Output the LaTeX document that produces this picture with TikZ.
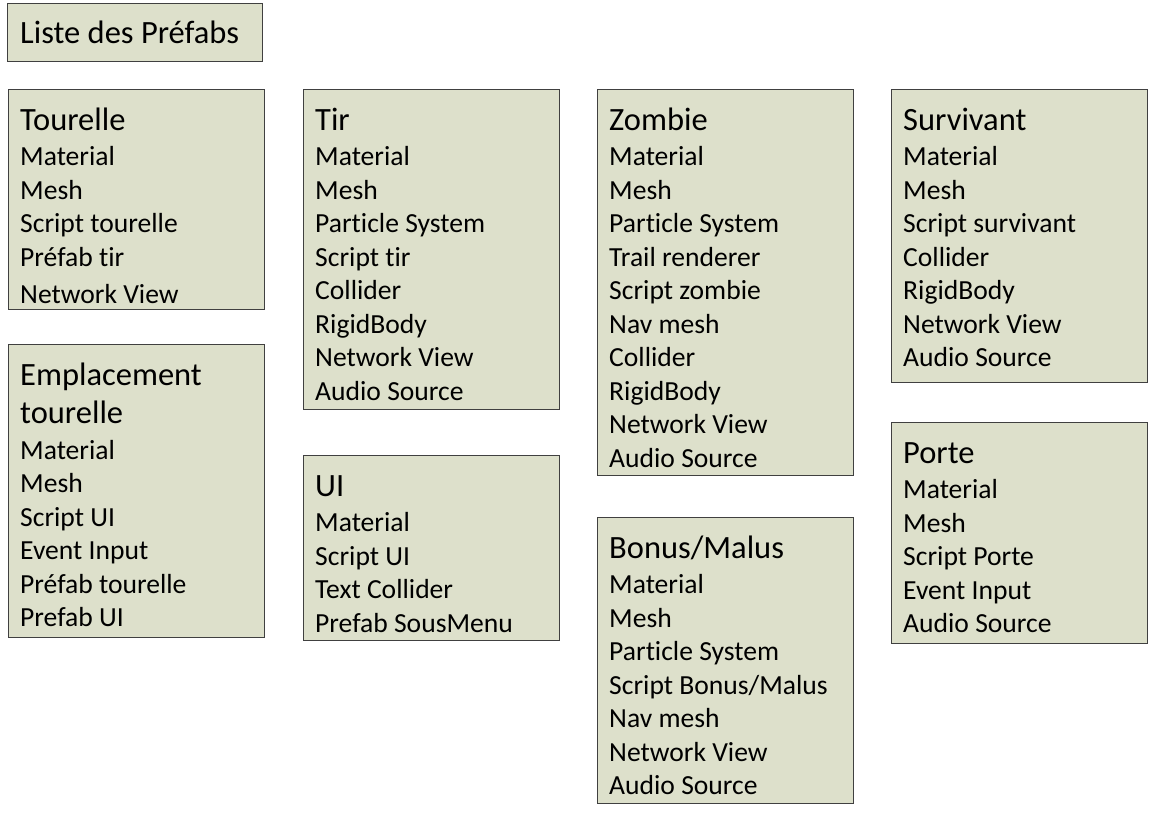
\documentclass[tikz,border=0pt]{standalone}
\usepackage{fontspec}
\setmainfont{Carlito}[Ligatures=NoCommon]
\definecolor{fond}{HTML}{DDE0CB}
\definecolor{trait}{HTML}{404040}
\newcommand{\titre}[1]{{\fontsize{32.5}{33.5}\selectfont\rule{0pt}{26pt}#1}}

\begin{document}
\begin{tikzpicture}[x=1pt,y=-1pt,
  boite/.style={draw=trait,fill=fond,line width=1.1pt,anchor=north west,
    inner sep=0pt,minimum width=256pt},
  contenu/.style={anchor=north west,inner sep=0pt,align=left,
    font=\fontsize{27.6}{33.5}\selectfont}]
  \useasboundingbox (0,0) rectangle (1150,815);

  \node[boite,minimum width=255pt,minimum height=58pt] (liste) at (7,3) {};
  \node[contenu] (liste-txt) at ([shift={(13,14)}]liste.north west)
    {\titre{Liste des Préfabs}};

  % colonne 1
  \node[boite,minimum height=220pt] (tourelle) at (8,89) {};
  \node[contenu] (tourelle-txt) at ([shift={(12,15)}]tourelle.north west)
    {\titre{Tourelle}\\[2pt] Material\\ Mesh\\ Script tourelle\\
     Préfab tir\\[4pt] Network View};

  \node[boite,minimum height=293pt] (emplacement) at (8,344) {};
  \node[contenu] (emplacement-txt) at ([shift={(12,15)}]emplacement.north west)
    {\titre{Emplacement}\\[5pt] \titre{tourelle}\\[2pt] Material\\ Mesh\\
     Script UI\\ Event Input\\ Préfab tourelle\\ Prefab UI};

  % colonne 2
  \node[boite,minimum height=320pt] (tir) at (303,89) {};
  \node[contenu] (tir-txt) at ([shift={(12,15)}]tir.north west)
    {\titre{Tir}\\[2pt] Material\\ Mesh\\ Particle System\\ Script tir\\
     Collider\\ RigidBody\\ Network View\\ Audio Source};

  \node[boite,minimum height=185pt] (ui) at (303,455) {};
  \node[contenu] (ui-txt) at ([shift={(12,15)}]ui.north west)
    {\titre{UI}\\[2pt] Material\\ Script UI\\ Text Collider\\ Prefab SousMenu};

  % colonne 3
  \node[boite,minimum height=386pt] (zombie) at (597,89) {};
  \node[contenu] (zombie-txt) at ([shift={(12,15)}]zombie.north west)
    {\titre{Zombie}\\[2pt] Material\\ Mesh\\ Particle System\\ Trail renderer\\
     Script zombie\\ Nav mesh\\ Collider\\ RigidBody\\ Network View\\
     Audio Source};

  \node[boite,minimum height=286pt] (bonus) at (597,517) {};
  \node[contenu] (bonus-txt) at ([shift={(12,15)}]bonus.north west)
    {\titre{Bonus/Malus}\\[2pt] Material\\ Mesh\\ Particle System\\
     Script Bonus/Malus\\ Nav mesh\\ Network View\\ Audio Source};

  % colonne 4
  \node[boite,minimum height=293pt] (survivant) at (891,89) {};
  \node[contenu] (survivant-txt) at ([shift={(12,15)}]survivant.north west)
    {\titre{Survivant}\\[2pt] Material\\ Mesh\\ Script survivant\\ Collider\\
     RigidBody\\ Network View\\ Audio Source};

  \node[boite,minimum height=221pt] (porte) at (891,422) {};
  \node[contenu] (porte-txt) at ([shift={(12,15)}]porte.north west)
    {\titre{Porte}\\[2pt] Material\\ Mesh\\ Script Porte\\ Event Input\\
     Audio Source};
\end{tikzpicture}
\end{document}
